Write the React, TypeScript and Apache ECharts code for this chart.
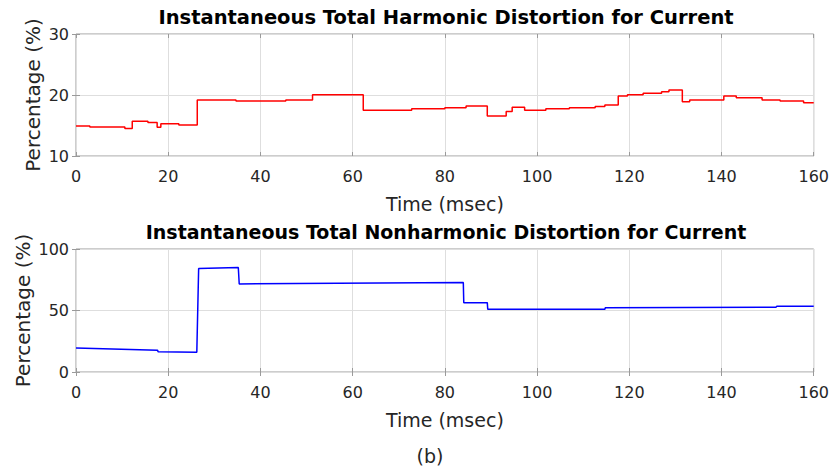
import React, { useEffect, useRef } from "react";
import * as echarts from "echarts";

// Time ticks (msec)
const timeTicks = [0, 20, 40, 60, 80, 100, 120, 140, 160];

// Top panel: instantaneous THD for current (step values, each holds until next time)
const thdTimes = [
  0, 3.0, 10.6, 12.2, 15.6, 17.6, 18.4, 22.3, 26.3, 34.7, 45.5, 51.3, 62.3, 72.8,
  80.0, 84.6, 89.2, 93.3, 94.6, 97.3, 101.9, 107.0, 112.6, 114.7, 117.6, 119.6,
  123.0, 127.0, 128.6, 131.5, 133.1, 140.5, 143.2, 148.8, 152.7, 157.8, 160,
];
const thdValues = [
  14.9, 14.75, 14.5, 15.7, 15.5, 14.7, 15.3, 15.1, 19.2, 19.0, 19.2, 20.05, 17.5, 17.75,
  17.9, 18.2, 16.55, 17.3, 18.0, 17.5, 17.75, 17.9, 18.1, 18.35, 19.85, 20.05,
  20.3, 20.55, 20.8, 18.9, 19.2, 19.85, 19.55, 19.2, 19.0, 18.75, 18.75,
];

// Bottom panel: instantaneous total nonharmonic distortion (segment end points)
const tnhdTimes = [
  0, 17.7, 17.8, 26.2, 26.6, 35.2, 35.4, 84.0, 84.1, 89.2, 89.3, 114.7, 114.8, 151.8, 152.0, 160,
];
const tnhdValues = [
  19.6, 17.7, 16.5, 16.0, 84.2, 85.0, 71.6, 72.7, 56.4, 56.4, 51.0, 51.0, 52.3, 52.6, 53.4, 53.4,
];

const topTitle = "Instantaneous Total Harmonic Distortion for Current";
const bottomTitle = "Instantaneous Total Nonharmonic Distortion for Current";
const xName = "Time (msec)";
const yName = "Percentage (%)";
const caption = "(b)";

const FONT = "'DejaVu Sans', 'Liberation Sans', Arial, sans-serif";
const FRAME = "#9a9a9a";
const GRIDLINE = "#dedede";
const TEXT = "#262626";

export default function App() {
  const ref = useRef<HTMLDivElement>(null);

  useEffect(() => {
    document.body.style.margin = "0";
    if (!ref.current) return;
    const chart = echarts.init(ref.current, undefined, { renderer: "svg" });

    const plotLeft = 76;
    const plotRight = 816;
    const grids = [
      { left: plotLeft, width: plotRight - plotLeft, top: 34, height: 122 },
      { left: plotLeft, width: plotRight - plotLeft, top: 249, height: 123 },
    ];

    const xMain = (gi: number) => ({
      type: "value",
      gridIndex: gi,
      min: timeTicks[0],
      max: timeTicks[timeTicks.length - 1],
      interval: 20,
      position: "bottom",
      name: xName,
      nameLocation: "middle",
      nameGap: 38,
      nameTextStyle: { fontFamily: FONT, fontSize: 19, color: TEXT },
      axisLine: { show: false },
      axisTick: { show: true, inside: true, length: 4, lineStyle: { color: FRAME } },
      axisLabel: { margin: 12, fontFamily: FONT, fontSize: 16, color: TEXT },
      splitLine: { show: true, lineStyle: { color: GRIDLINE, width: 1 } },
    });
    const xTop = (gi: number) => ({
      type: "value",
      gridIndex: gi,
      min: timeTicks[0],
      max: timeTicks[timeTicks.length - 1],
      interval: 20,
      position: "top",
      axisLine: { show: false },
      axisTick: { show: true, inside: true, length: 4, lineStyle: { color: FRAME } },
      axisLabel: { show: false },
      splitLine: { show: false },
    });
    const yMain = (gi: number, min: number, max: number, interval: number, gap: number) => ({
      type: "value",
      gridIndex: gi,
      min,
      max,
      interval,
      position: "left",
      name: yName,
      nameLocation: "middle",
      nameGap: gap,
      nameMoveOverlap: false,
      nameTextStyle: { fontFamily: FONT, fontSize: 20, color: TEXT },
      axisLine: { show: false },
      axisTick: { show: true, inside: true, length: 4, lineStyle: { color: FRAME } },
      axisLabel: { margin: 7, fontFamily: FONT, fontSize: 16, color: TEXT },
      splitLine: { show: true, lineStyle: { color: GRIDLINE, width: 1 } },
    });
    const yRight = (gi: number, min: number, max: number, interval: number) => ({
      type: "value",
      gridIndex: gi,
      min,
      max,
      interval,
      position: "right",
      axisLine: { show: false },
      axisTick: { show: true, inside: true, length: 4, lineStyle: { color: FRAME } },
      axisLabel: { show: false },
      splitLine: { show: false },
    });

    const thdData = thdTimes.map((t, i) => [t, thdValues[i]]);
    const tnhdData = tnhdTimes.map((t, i) => [t, tnhdValues[i]]);

    chart.setOption({
      animation: false,
      backgroundColor: "#ffffff",
      grid: grids.map((g) => ({ ...g, show: true, borderColor: FRAME, borderWidth: 1, backgroundColor: "transparent" })),
      xAxis: [xMain(0), xTop(0), xMain(1), xTop(1)],
      yAxis: [yMain(0, 10, 30, 10, 33), yRight(0, 10, 30, 10), yMain(1, 0, 100, 50, 43), yRight(1, 0, 100, 50)],
      series: [
        {
          type: "line",
          xAxisIndex: 0,
          yAxisIndex: 0,
          data: thdData,
          step: "end",
          showSymbol: false,
          symbol: "none",
          lineStyle: { color: "#ff0000", width: 1.5 },
          itemStyle: { color: "#ff0000" },
        },
        {
          type: "line",
          xAxisIndex: 2,
          yAxisIndex: 2,
          data: tnhdData,
          showSymbol: false,
          symbol: "none",
          lineStyle: { color: "#0000ff", width: 1.5 },
          itemStyle: { color: "#0000ff" },
        },
      ],
      graphic: [
        {
          type: "text",
          x: (plotLeft + plotRight) / 2,
          y: 17,
          style: {
            text: topTitle,
            align: "center",
            verticalAlign: "middle",
            fontFamily: FONT,
            fontSize: 19.5,
            fontWeight: "bold",
            fill: "#000000",
          },
        },
        {
          type: "text",
          x: (plotLeft + plotRight) / 2,
          y: 232,
          style: {
            text: bottomTitle,
            align: "center",
            verticalAlign: "middle",
            fontFamily: FONT,
            fontSize: 19,
            fontWeight: "bold",
            fill: "#000000",
          },
        },
        {
          type: "text",
          x: 430,
          y: 456,
          style: {
            text: caption,
            align: "center",
            verticalAlign: "middle",
            fontFamily: FONT,
            fontSize: 19,
            fill: TEXT,
          },
        },
      ],
    });

    return () => {
      chart.dispose();
    };
  }, []);

  return <div ref={ref} style={{ width: 832, height: 472 }} />;
}
